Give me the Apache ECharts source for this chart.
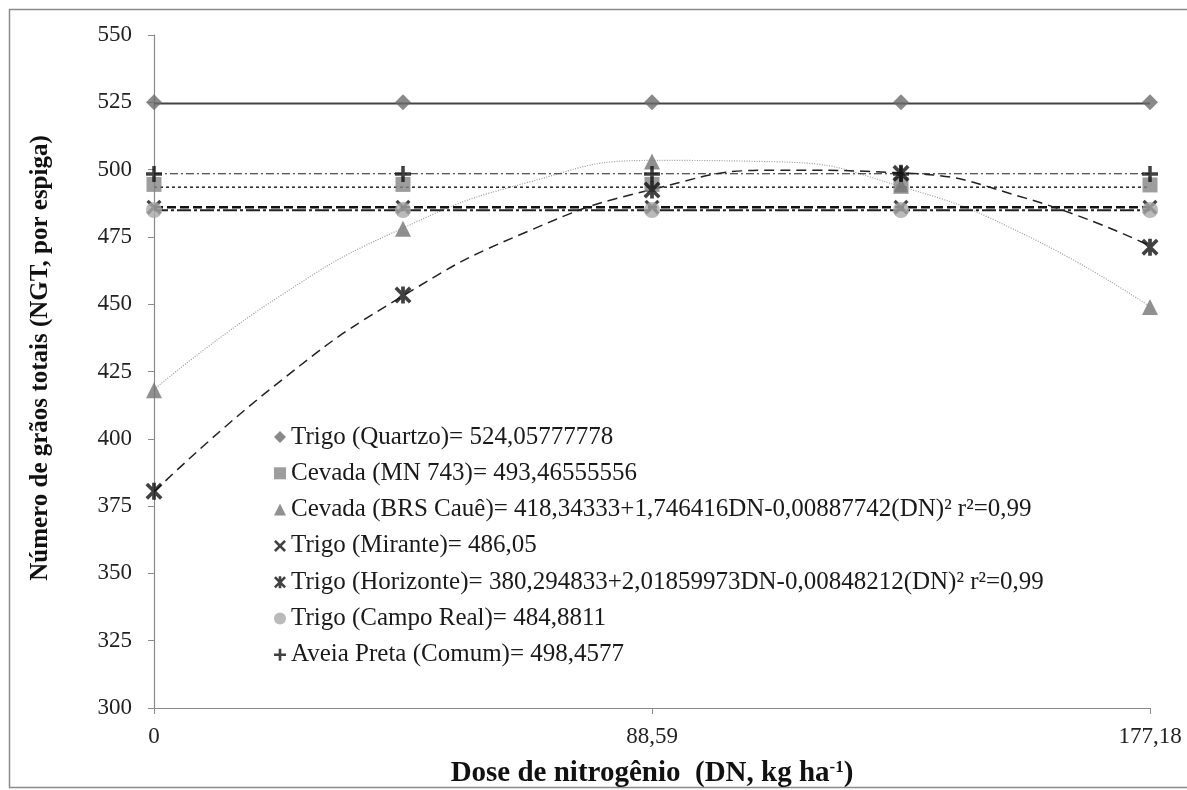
<!DOCTYPE html>
<html>
<head>
<meta charset="utf-8">
<script src="https://cdn.jsdelivr.net/npm/echarts@6/dist/echarts.min.js"></script>
<style>
  html, body { margin: 0; padding: 0; background: #fff; }
  #myChart { width: 1187px; height: 790px; }
</style>
</head>
<body>
<div id="myChart"></div>
<script>
// doses (DN, kg ha-1) where the points were measured
const doses = [0, 44.295, 88.59, 132.885, 177.18]
const xTickLabels = ['0', '88,59', '177,18']
const yTicks = [300, 550, 25]

const quartzo = [525, 525, 525, 525, 525]
const mn743 = [494.5, 494.5, 494.5, 494.5, 494.3]
const caue = [418, 478, 503, 494, 449]
const mirante = [486, 486, 486, 486, 486]
const horizonte = [380.5, 453.4, 492.4, 498.6, 471.2]
const campoReal = [485, 485, 485, 485, 485]
const aveia = [498.4, 498.4, 498.4, 498.4, 498.4]

// trend lines as they appear on the picture
const lineEnds = [0, 177.18]
const fitQuartzo = [524.6, 524.6]
const fitMn743 = [493.47, 493.47]
const fitMirante = [486.05, 486.05]
const fitCampoReal = [484.88, 484.88]
const fitAveia = [498.46, 498.46]
const curveX = [0, 22.15, 44.3, 66.44, 88.59, 110.74, 132.89, 155.03, 177.18]
const fitCaue = [418.3, 452.7, 478.3, 495.2, 503.4, 502.9, 493.7, 475.7, 449.1]
const fitHorizonte = [380.3, 420.9, 453.1, 477.0, 492.6, 499.8, 498.8, 489.4, 471.7]

const names = ['Trigo (Quartzo)', 'Cevada (MN 743)', 'Cevada (BRS Cauê)', 'Trigo (Mirante)',
  'Trigo (Horizonte)', 'Trigo (Campo Real)', 'Aveia Preta (Comum)']
const equations = ['= 524,05777778', '= 493,46555556',
  '= 418,34333+1,746416DN-0,00887742(DN)² r²=0,99', '= 486,05',
  '= 380,294833+2,01859973DN-0,00848212(DN)² r²=0,99', '= 484,8811', '= 498,4577']

const xIcon = 'path://M1.5,0L5,3.5L8.5,0L10,1.5L6.5,5L10,8.5L8.5,10L5,6.5L1.5,10L0,8.5L3.5,5L0,1.5Z'
const starIcon = 'path://M1.5,0L5,3.5L8.5,0L10,1.5L6.5,5L10,8.5L8.5,10L5,6.5L1.5,10L0,8.5L3.5,5L0,1.5ZM3.9,0H6.1V10H3.9Z'
const plusIcon = 'path://M3.9,0H6.1V3.9H10V6.1H6.1V10H3.9V6.1H0V3.9H3.9Z'

function pts (xs, ys) {
  return xs.map((x, i) => [x, ys[i]])
}

function markers (name, data, symbol, size, color) {
  return {
    name: name,
    type: 'scatter',
    data: pts(doses, data),
    symbol: symbol,
    symbolSize: size,
    itemStyle: { color: color },
    z: 5
  }
}

function fit (name, xs, ys, color, width, dash) {
  return {
    name: name,
    type: 'line',
    data: pts(xs, ys),
    symbol: 'none',
    smooth: xs.length > 2,
    lineStyle: { color: color, width: width, type: dash },
    z: 2,
    silent: true
  }
}

let myChart = echarts.init(document.getElementById('myChart'))

let option = {
  animation: false,
  backgroundColor: '#fff',
  textStyle: { fontFamily: 'Liberation Serif' },
  graphic: [{
    type: 'rect',
    shape: { x: 9.5, y: 9.5, width: 1200, height: 778 },
    style: { fill: 'none', stroke: '#8a8a8a', lineWidth: 1.5 },
    silent: true
  }],
  grid: { left: 154, right: 37, top: 35, bottom: 82, outerBoundsMode: 'none' },
  legend: {
    orient: 'vertical',
    left: 274,
    top: 424,
    padding: 0,
    itemGap: 10.3,
    itemWidth: 12,
    itemHeight: 12,
    textStyle: { fontFamily: 'Liberation Serif', fontSize: 25, color: '#1a1a1a', lineHeight: 26 },
    data: [
      { name: names[0], icon: 'diamond' },
      { name: names[1], icon: 'rect' },
      { name: names[2], icon: 'triangle' },
      { name: names[3], icon: xIcon },
      { name: names[4], icon: starIcon },
      { name: names[5], icon: 'circle' },
      { name: names[6], icon: plusIcon }
    ],
    formatter: function (name) {
      return name + equations[names.indexOf(name)]
    }
  },
  xAxis: {
    type: 'value',
    min: 0,
    max: 177.18,
    interval: 88.59,
    name: 'Dose de nitrogênio  (DN, kg ha{sup|-1})',
    nameLocation: 'middle',
    nameGap: 51,
    nameTextStyle: {
      fontFamily: 'Liberation Serif', fontSize: 29, fontWeight: 'bold', color: '#111',
      rich: { sup: { fontFamily: 'Liberation Serif', fontSize: 17, fontWeight: 'bold', color: '#111', verticalAlign: 'top', padding: [0, 0, 12, 0] } }
    },
    axisLine: { lineStyle: { color: '#8a8a8a', width: 1.2 } },
    axisTick: { show: true, length: 6, lineStyle: { color: '#8a8a8a' } },
    axisLabel: {
      fontFamily: 'Liberation Serif', fontSize: 23, color: '#222', margin: 17,
      formatter: function (v, i) { return xTickLabels[i] }
    },
    splitLine: { show: false }
  },
  yAxis: {
    type: 'value',
    min: yTicks[0],
    max: yTicks[1],
    interval: yTicks[2],
    name: 'Número de grãos totais (NGT, por espiga)',
    nameLocation: 'middle',
    nameGap: 101,
    nameTextStyle: {
      fontFamily: 'Liberation Serif', fontSize: 25, fontWeight: 'bold', color: '#111',
      padding: [0, 0, 0, 27]
    },
    axisLine: { show: true, lineStyle: { color: '#8a8a8a', width: 1.2 } },
    axisTick: { show: true, length: 6, lineStyle: { color: '#8a8a8a' } },
    axisLabel: { fontFamily: 'Liberation Serif', fontSize: 23, color: '#222', margin: 22 },
    splitLine: { show: false }
  },
  series: [
    markers(names[0], quartzo, 'diamond', 16, '#6b6b6b'),
    markers(names[1], mn743, 'rect', 15, '#858585'),
    markers(names[2], caue, 'triangle', 16, '#747474'),
    markers(names[3], mirante, xIcon, 15, '#111'),
    markers(names[4], horizonte, starIcon, 17, '#111'),
    markers(names[5], campoReal, 'circle', 16, '#a9a9a9'),
    markers(names[6], aveia, plusIcon, 16, '#111'),
    fit(names[0], lineEnds, fitQuartzo, '#444', 2, 'solid'),
    fit(names[1], lineEnds, fitMn743, '#222', 1.5, [3, 3]),
    fit(names[2], curveX, fitCaue, '#9a9a9a', 1.2, [1, 1.5]),
    fit(names[3], lineEnds, fitMirante, '#111', 2.5, [9, 4]),
    fit(names[4], curveX, fitHorizonte, '#222', 1.5, [10, 6]),
    fit(names[5], lineEnds, fitCampoReal, '#222', 2, [14, 3, 3, 3]),
    fit(names[6], lineEnds, fitAveia, '#222', 1.2, [8, 3, 2, 3])
  ]
}
myChart.setOption(option, true)
</script>
</body>
</html>
